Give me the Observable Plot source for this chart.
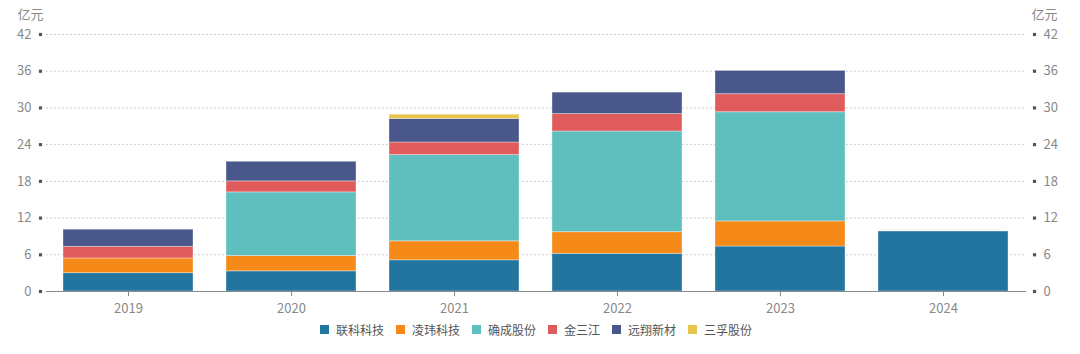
<!DOCTYPE html>
<html>
<head>
<meta charset="utf-8">
<script src="https://cdn.jsdelivr.net/npm/d3@7"></script>
<script src="https://cdn.jsdelivr.net/npm/@observablehq/plot@0.6"></script>
<style>
  html, body { margin: 0; padding: 0; background: #fff; }
  body { width: 1080px; height: 354px; overflow: hidden; font-family: "Noto Sans CJK SC", "Noto Sans", sans-serif; }
  #legend { display: flex; justify-content: center; align-items: center; height: 22px; margin-left: -8px; font-size: 12px; color: #555; }
  .item { display: flex; align-items: center; margin: 0 6px; }
  .sw { width: 9px; height: 9px; margin-right: 7px; }
</style>
</head>
<body>
<div id="chart"></div>
<div id="legend"></div>
<script>
const years = ["2019", "2020", "2021", "2022", "2023", "2024"];
const companies = ["联科科技", "凌玮科技", "确成股份", "金三江", "远翔新材", "三孚股份"];
const colors = ["#21759f", "#f68a18", "#5fbebe", "#e05c5c", "#4a578a", "#e8c54f"];
const lianke   = [3.0, 3.3, 5.1, 6.15, 7.35, 9.8];
const lingwei  = [2.4, 2.5, 3.1, 3.55, 4.1, 0];
const quecheng = [0, 10.4, 14.1, 16.45, 17.85, 0];
const jinsanjiang = [1.9, 1.8, 2.05, 2.85, 2.95, 0];
const yuanxiang = [2.8, 3.2, 3.85, 3.5, 3.8, 0];
const sanfu    = [0, 0, 0.7, 0, 0, 0];
const yTicks = [0, 6, 12, 18, 24, 30, 36, 42];
const unit = "亿元";

const series = [lianke, lingwei, quecheng, jinsanjiang, yuanxiang, sanfu];
const table = [];
companies.forEach((c, i) => years.forEach((y, j) => {
  if (series[i][j] > 0) table.push({year: y, company: c, value: series[i][j]});
}));

const font = "'Noto Sans CJK SC', 'Noto Sans', sans-serif";
const plot = Plot.plot({
  width: 1080,
  height: 318,
  marginLeft: 46,
  marginRight: 54,
  marginTop: 34,
  marginBottom: 27,
  style: {fontFamily: font, fontSize: "13px", color: "#888", background: "#fff"},
  x: {domain: years, paddingInner: 0.2, paddingOuter: 0.1, label: null},
  y: {domain: [0, 42], ticks: yTicks, label: null},
  color: {domain: companies, range: colors},
  marks: [
    Plot.gridY(yTicks.filter(d => d > 0), {stroke: "#bbb", strokeOpacity: 1, strokeDasharray: "1.5,2.5"}),
    Plot.barY(table, {x: "year", y: "value", fill: "company", order: companies, stroke: "#fff", strokeOpacity: 0.35, strokeWidth: 1}),
    Plot.ruleY([0], {stroke: "#888"}),
    Plot.axisX({tickSize: 5, tickPadding: 7, stroke: "#888", fill: "#888", fontSize: 13}),
    Plot.axisY(yTicks, {anchor: "left", tickSize: 0, tickPadding: 15, fill: "#888", fontSize: 13}),
    Plot.axisY(yTicks, {anchor: "right", tickSize: 0, tickPadding: 17, fill: "#888", fontSize: 13}),
    Plot.dot(yTicks, {y: d => d, frameAnchor: "left", dx: -6, symbol: "square", r: 1.8, fill: "#555"}),
    Plot.dot(yTicks, {y: d => d, frameAnchor: "right", dx: 8, symbol: "square", r: 1.8, fill: "#555"}),
    Plot.text([unit], {frameAnchor: "top-left", dx: -29, dy: -25, text: d => d, fill: "#888", fontSize: 13, textAnchor: "start", lineAnchor: "top"}),
    Plot.text([unit], {frameAnchor: "top-right", dx: 31, dy: -25, text: d => d, fill: "#888", fontSize: 13, textAnchor: "end", lineAnchor: "top"})
  ]
});
document.getElementById("chart").appendChild(plot);

const legend = document.getElementById("legend");
companies.forEach((c, i) => {
  const it = document.createElement("div");
  it.className = "item";
  it.innerHTML = `<div class="sw" style="background:${colors[i]}"></div><span>${c}</span>`;
  legend.appendChild(it);
});
</script>
</body>
</html>
